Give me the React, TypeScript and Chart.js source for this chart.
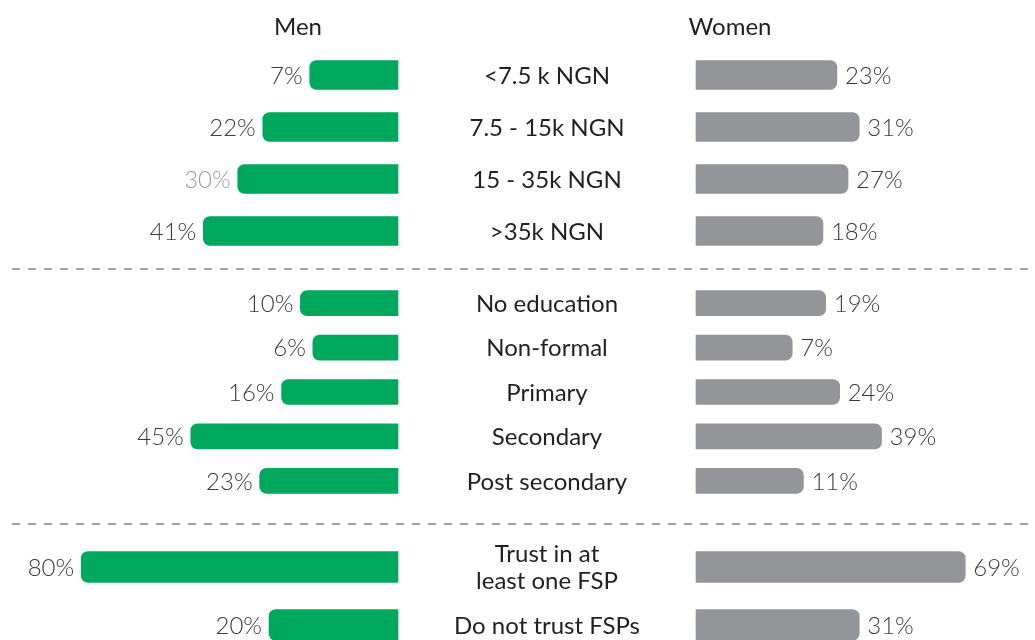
import React, { useEffect, useRef } from "react";
import { Chart, registerables } from "chart.js";

Chart.register(...registerables);

// ---------- DATA ----------
const incomeCategories: (string | string[])[] = ["<7.5 k NGN", "7.5 - 15k NGN", "15 - 35k NGN", ">35k NGN"];
const incomeMen = [7, 22, 30, 41];
const incomeWomen = [23, 31, 27, 18];

const educationCategories: (string | string[])[] = ["No education", "Non-formal", "Primary", "Secondary", "Post secondary"];
const educationMen = [10, 6, 16, 45, 23];
const educationWomen = [19, 7, 24, 39, 11];

const trustCategories: (string | string[])[] = [["Trust in at", "least one FSP"], "Do not trust FSPs"];
const trustMen = [80, 20];
const trustWomen = [69, 31];

const seriesNames = ["Men", "Women"];

// ---------- STYLE / LAYOUT ----------
const W = 1035;
const GREEN = "#00a85d";
const GREY = "#939598";
const TEXT = "#231f20";
const VALUE_TEXT = "#3c3c3c";
const MUTED_VALUE_TEXT = "#9a9ea2";
const FONT = "Lato, 'Open Sans', sans-serif";

// men axis: reversed, base at x=398, 3.13 px per unit
const MEN_BASE = -21.2;
const MEN_PX = 3.13;
const MEN_EDGE = 398;
// women axis: base at x=696, 2.79 px per unit
const WOMEN_BASE = -27.5;
const WOMEN_PX = 2.79;
const WOMEN_EDGE = 696;

type Panel = {
  cats: (string | string[])[];
  men: number[];
  women: number[];
  top: number;
  height: number;
  padTop: number;
  padBottom: number;
  barThickness: number;
  headers: boolean;
  dashedAt: number | null;
  mutedMen?: number[];
};

const panels: Panel[] = [
  { cats: incomeCategories, men: incomeMen, women: incomeWomen, top: 0, height: 260, padTop: 49, padBottom: 3, barThickness: 29, headers: true, dashedAt: null, mutedMen: [2] },
  { cats: educationCategories, men: educationMen, women: educationWomen, top: 260, height: 255, padTop: 21, padBottom: 12, barThickness: 25, headers: false, dashedAt: 9 },
  { cats: trustCategories, men: trustMen, women: trustWomen, top: 515, height: 145, padTop: 23, padBottom: 6, barThickness: 31, headers: false, dashedAt: 9 },
];

const overlayPlugin = {
  id: "overlay",
  afterDatasetsDraw(chart: any, _args: any, opts: any) {
    const ctx = chart.ctx as CanvasRenderingContext2D;
    const p: Panel = opts.panel;
    const yScale = chart.scales.y;
    ctx.save();
    // dashed separator
    if (p.dashedAt !== null) {
      ctx.strokeStyle = "#8a8c8e";
      ctx.lineWidth = 1.6;
      ctx.setLineDash([8, 8]);
      ctx.beginPath();
      ctx.moveTo(12, p.dashedAt);
      ctx.lineTo(W, p.dashedAt);
      ctx.stroke();
      ctx.setLineDash([]);
    }
    // headers
    if (p.headers) {
      ctx.fillStyle = TEXT;
      ctx.font = `400 24px ${FONT}`;
      ctx.textAlign = "center";
      ctx.textBaseline = "middle";
      ctx.fillText(seriesNames[0], 298, 27);
      ctx.fillText(seriesNames[1], 730, 27);
    }
    // category labels
    ctx.fillStyle = TEXT;
    ctx.font = `400 24px ${FONT}`;
    ctx.textAlign = "center";
    ctx.textBaseline = "middle";
    p.cats.forEach((c, i) => {
      const y = yScale.getPixelForValue(i);
      const lines = Array.isArray(c) ? c : [c];
      const lh = 27;
      lines.forEach((ln, k) => {
        ctx.fillText(ln, 547, y + (k - (lines.length - 1) / 2) * lh + 1);
      });
    });
    // value labels
    ctx.font = `300 24px ${FONT}`;
    const menMeta = chart.getDatasetMeta(0);
    const womenMeta = chart.getDatasetMeta(1);
    menMeta.data.forEach((bar: any, i: number) => {
      ctx.fillStyle = p.mutedMen && p.mutedMen.includes(i) ? MUTED_VALUE_TEXT : VALUE_TEXT;
      ctx.textAlign = "right";
      ctx.fillText(`${p.men[i]}%`, bar.x - 7, bar.y + 1);
    });
    womenMeta.data.forEach((bar: any, i: number) => {
      ctx.fillStyle = VALUE_TEXT;
      ctx.textAlign = "left";
      ctx.fillText(`${p.women[i]}%`, bar.x + 8, bar.y + 1);
    });
    ctx.restore();
  },
};

function PanelChart({ p }: { p: Panel }) {
  const ref = useRef<HTMLCanvasElement>(null);
  useEffect(() => {
    if (!ref.current) return;
    const chart = new Chart(ref.current, {
      type: "bar",
      data: {
        labels: p.cats as any,
        datasets: [
          {
            label: seriesNames[0],
            data: p.men,
            xAxisID: "xm",
            base: MEN_BASE,
            grouped: false,
            backgroundColor: GREEN,
            borderRadius: 7,
            borderSkipped: "start",
            barThickness: p.barThickness,
          } as any,
          {
            label: seriesNames[1],
            data: p.women,
            xAxisID: "xw",
            base: WOMEN_BASE,
            grouped: false,
            backgroundColor: GREY,
            borderRadius: 7,
            borderSkipped: "start",
            barThickness: p.barThickness,
          } as any,
        ],
      },
      options: {
        indexAxis: "y",
        animation: false,
        responsive: false,
        maintainAspectRatio: false,
        layout: { padding: { top: p.padTop, bottom: p.padBottom, left: 0, right: 0 } },
        plugins: {
          legend: { display: false },
          tooltip: { enabled: false },
          overlay: { panel: p },
        } as any,
        scales: {
          y: { type: "category", display: false, grid: { display: false } },
          xm: {
            type: "linear",
            display: false,
            reverse: true,
            min: MEN_BASE - (W - MEN_EDGE) / MEN_PX,
            max: MEN_BASE + MEN_EDGE / MEN_PX,
          },
          xw: {
            type: "linear",
            display: false,
            min: WOMEN_BASE - WOMEN_EDGE / WOMEN_PX,
            max: WOMEN_BASE + (W - WOMEN_EDGE) / WOMEN_PX,
          },
        },
      } as any,
      plugins: [overlayPlugin],
    });
    return () => chart.destroy();
  }, [p]);
  return (
    <canvas
      ref={ref}
      width={W}
      height={p.height}
      style={{ position: "absolute", left: 0, top: p.top, width: W, height: p.height, display: "block" }}
    />
  );
}

export default function App() {
  return (
    <div
      style={{
        position: "fixed",
        left: 0,
        top: 0,
        width: W,
        height: 640,
        overflow: "hidden",
        background: "#ffffff",
      }}
    >
      {panels.map((p, i) => (
        <PanelChart key={i} p={p} />
      ))}
    </div>
  );
}
